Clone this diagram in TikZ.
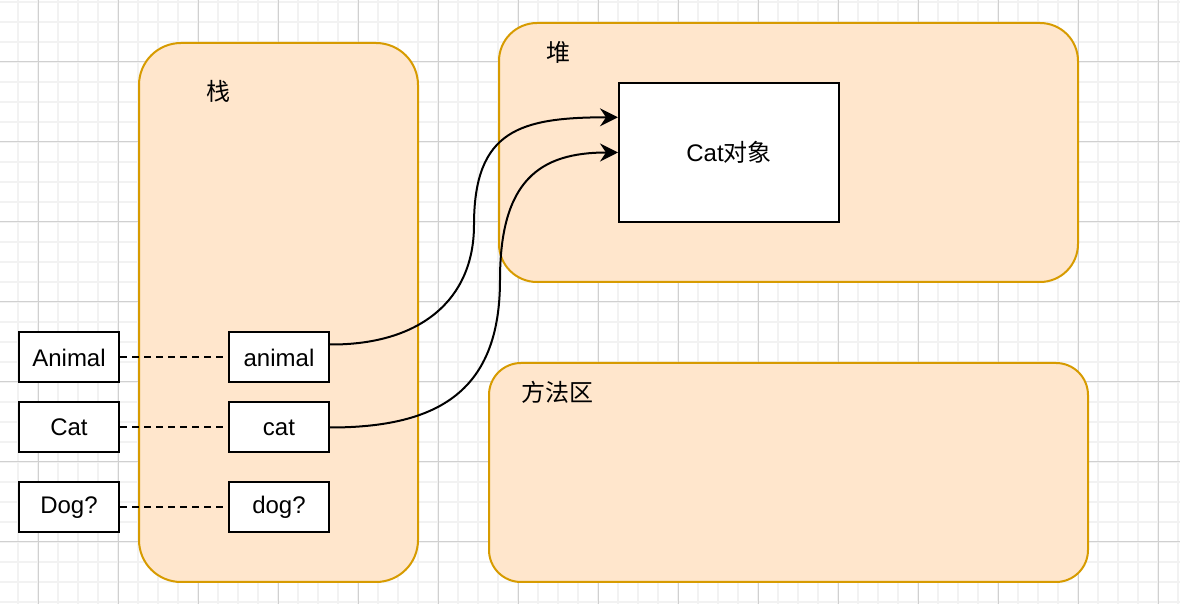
\documentclass[tikz,border=0pt]{standalone}
\usepackage{fontspec}
\setmainfont{Liberation Sans}
\newfontfamily\cjk{Noto Sans CJK SC}
\usetikzlibrary{arrows.meta,calc}
\definecolor{areafill}{HTML}{FFE6CC}
\definecolor{areadraw}{HTML}{D79B00}
\definecolor{gridminor}{HTML}{F2F2F2}
\definecolor{gridmajor}{HTML}{D0D0D0}
\begin{document}
\begin{tikzpicture}[x=.5pt,y=-.5pt,
                    area/.style={draw=areadraw,fill=areafill,line width=1pt},
                    box/.style={draw,fill=white,line width=1pt,inner sep=0pt,
                                minimum width=50pt,minimum height=25pt},
                    link/.style={line width=1pt,dash pattern=on 3.5pt off 2.5pt},
                    ref/.style={line width=1pt,-{Stealth[length=9pt,width=9pt,inset=3pt]}},
                    every node/.style={font=\fontsize{12}{14}\selectfont}]
 \useasboundingbox (0,0) rectangle (1180,604);
 % grid
 \foreach \x in {18,38,...,1178} \draw[gridminor,line width=1pt] (\x,0)--(\x,604);
 \foreach \y in {2,22,...,602} \draw[gridminor,line width=1pt] (0,\y)--(1180,\y);
 \foreach \x in {38,118,...,1158} \draw[gridmajor,line width=.5pt] (\x,0)--(\x,604);
 \foreach \y in {62,142,...,542} \draw[gridmajor,line width=.5pt] (0,\y)--(1180,\y);
 % memory areas
 \node[area,rounded corners=21pt,minimum width=139.5pt,minimum height=269.5pt] (stack) at (278.5,312.5) {};
 \node[area,rounded corners=19pt,minimum width=289.5pt,minimum height=129.5pt] (heap) at (788.5,152.5) {};
 \node[area,rounded corners=16pt,minimum width=299.5pt,minimum height=109.5pt] (method) at (788.5,472.5) {};
 \node (stacklbl) at (218,91) {\cjk 栈};
 \node (heaplbl) at (558,52) {\cjk 堆};
 \node (methodlbl) at (557.5,392) {\cjk 方法区};
 \node[box,minimum width=110pt,minimum height=69.5pt] (catobj) at (729,152.5) {Cat{\cjk 对象}};
 % types and variables
 \node[box] (clsAnimal) at (69,357.5) {Animal};
 \node[box] (clsCat) at (69,427.5) {Cat};
 \node[box] (clsDog) at (69,507.5) {Dog?};
 \node[box] (varAnimal) at (279,357.5) {animal};
 \node[box] (varCat) at (279,427.5) {cat};
 \node[box] (varDog) at (279,507.5) {dog?};
 \draw[link] (clsAnimal) -- (varAnimal);
 \draw[link] (clsCat) -- (varCat);
 \draw[link] (clsDog) -- (varDog);
 % references
 \draw[ref] ($(varAnimal.north east)!.25!(varAnimal.south east)$)
   .. controls (420,345) and (474,300) .. (474,225)
   .. controls (474,130) and (520,117.5) .. ($(catobj.north west)!.25!(catobj.south west)$);
 \draw[ref] (varCat.east)
   .. controls (440,427.5) and (500,390) .. (500,280)
   .. controls (500,180) and (540,152.5) .. (catobj.west);
\end{tikzpicture}
\end{document}
